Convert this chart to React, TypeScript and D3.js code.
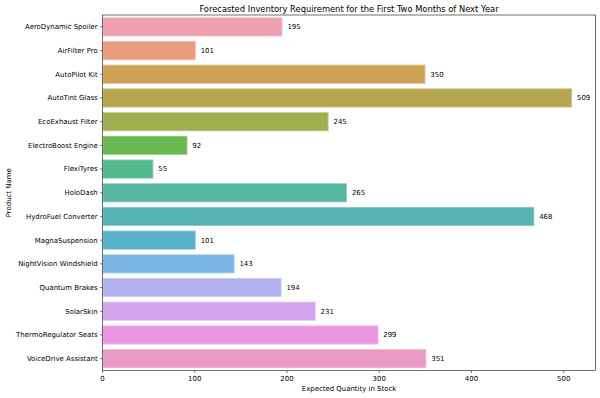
import React from "react";
import * as d3 from "d3";

const products = [
  "AeroDynamic Spoiler",
  "AirFilter Pro",
  "AutoPilot Kit",
  "AutoTint Glass",
  "EcoExhaust Filter",
  "ElectroBoost Engine",
  "FlexiTyres",
  "HoloDash",
  "HydroFuel Converter",
  "MagnaSuspension",
  "NightVision Windshield",
  "Quantum Brakes",
  "SolarSkin",
  "ThermoRegulator Seats",
  "VoiceDrive Assistant",
];

const quantities = [195, 101, 350, 509, 245, 92, 55, 265, 468, 101, 143, 194, 231, 299, 351];

const barColors = [
  "#eda0ad", "#e99d7d", "#cfa155", "#b5a74f", "#a1ae50", "#6bb850", "#51b98b", "#56b7a2",
  "#56b3b4", "#59b3cb", "#7ab5e5", "#b4b2ee", "#d6a4ec", "#ea95df", "#ea9bc4",
];

const xTicks = [0, 100, 200, 300, 400, 500];

const W = 600;
const H = 398;
const M = { left: 102.5, right: 595.5, top: 15, bottom: 370.5 };
const FONT = "DejaVu Sans, sans-serif";

export default function App() {
  const xmax = d3.max(quantities)! * 1.05;
  const x = d3.scaleLinear().domain([0, xmax]).range([M.left, M.right]);
  const y = d3
    .scaleBand<string>()
    .domain(products)
    .range([M.top, M.bottom])
    .paddingInner(0.2)
    .paddingOuter(0.1);
  const band = d3.scaleBand<string>().domain(products).range([M.top, M.bottom]);
  const tickLen = 2.4;
  return (
    <div style={{ position: "absolute", left: 0, top: 0 }}>
      <svg width={W} height={H} style={{ display: "block", background: "#fff" }} fontFamily={FONT}>
        <text x={(M.left + M.right) / 2} y={11.5} fontSize={8.33} textAnchor="middle" fill="#000">
          Forecasted Inventory Requirement for the First Two Months of Next Year
        </text>
        {products.map((p, i) => {
          const bx = x(0);
          const bw = x(quantities[i]) - x(0);
          const by = y(p)!;
          const bh = y.bandwidth();
          const cy = band(p)! + band.bandwidth() / 2;
          return (
            <g key={p}>
              <rect x={bx} y={by} width={bw} height={bh} fill={barColors[i]} />
              <rect
                x={bx + 0.4}
                y={by + 0.4}
                width={Math.max(bw - 0.8, 0)}
                height={bh - 0.8}
                fill="none"
                stroke="#fff"
                strokeOpacity={0.35}
                strokeWidth={0.8}
              />
              <text x={x(quantities[i]) + 5} y={cy} dy="0.35em" fontSize={6.94} fill="#000">
                {quantities[i]}
              </text>
              <line x1={M.left - tickLen} x2={M.left} y1={cy} y2={cy} stroke="#000" strokeWidth={0.55} />
              <text x={M.left - tickLen - 2.4} y={cy} dy="0.35em" fontSize={6.94} textAnchor="end" fill="#000">
                {p}
              </text>
            </g>
          );
        })}
        {xTicks.map((t) => (
          <g key={t}>
            <line x1={x(t)} x2={x(t)} y1={M.bottom} y2={M.bottom + tickLen} stroke="#000" strokeWidth={0.55} />
            <text x={x(t)} y={M.bottom + tickLen + 8.2} fontSize={6.94} textAnchor="middle" fill="#000">
              {t}
            </text>
          </g>
        ))}
        <rect
          x={M.left}
          y={M.top}
          width={M.right - M.left}
          height={M.bottom - M.top}
          fill="none"
          stroke="#333"
          strokeWidth={0.7}
        />
        <text x={(M.left + M.right) / 2} y={390.5} fontSize={6.94} textAnchor="middle" fill="#000">
          Expected Quantity in Stock
        </text>
        <text
          transform={`translate(10.5,${(M.top + M.bottom) / 2}) rotate(-90)`}
          fontSize={6.94}
          textAnchor="middle"
          fill="#000"
        >
          Product Name
        </text>
      </svg>
    </div>
  );
}
